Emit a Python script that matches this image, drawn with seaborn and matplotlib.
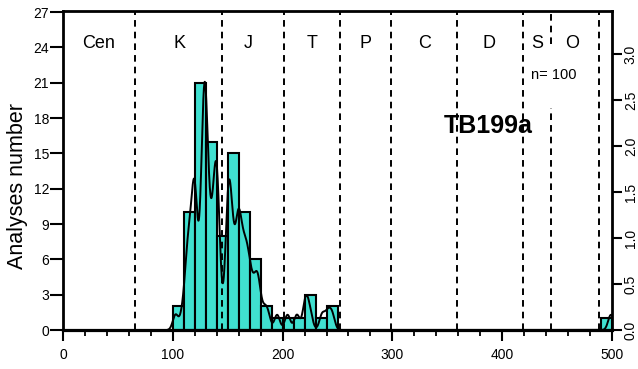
import numpy as np
import pandas as pd
import matplotlib
matplotlib.use("Agg")
import matplotlib.pyplot as plt
import seaborn as sns

# ---- data ----
ages = [
    102.5, 109,                                                   # 100-110 (2)
    112.3, 113, 113.6, 114.3, 115.3, 116.5, 117.4, 118.1, 118.7, 119.3,  # 110-120 (10)
    120.0, 120.2, 120.4, 120.6, 120.9, 121.5, 125.3, 126.0, 126.6, 127.1,
    127.5, 127.9, 128.2, 128.5, 128.5, 128.8, 129.1, 129.4, 129.6, 129.8,
    129.9,                                                        # 120-130 (21)
    130.2, 130.6, 131.1, 131.8, 132.6, 133.5, 134.5, 135.5, 136.4, 137.2,
    137.9, 138.5, 139.0, 139.4, 139.7, 139.9,                     # 130-140 (16)
    140.2, 140.6, 141.2, 142.0, 142.4, 149.0, 149.3, 149.7,       # 140-150 (8)
    150.0, 150.4, 151.0, 151.5, 152.0, 152.5, 153.1, 153.8, 154.7, 155.6,
    157.8, 158.6, 159.2, 159.6, 159.9,                            # 150-160 (15)
    160.6, 161.5, 162.5, 163.5, 164.5, 165.5, 166.5, 167.5, 168.5, 169.5,  # 160-170 (10)
    171.0, 173.0, 174.8, 176.5, 178.0, 178.5,                     # 170-180 (6)
    183.0, 186.5,                                                 # 180-190 (2)
    195, 204.5, 213, 220.5, 221.5, 225, 236, 241, 245,            # 190-250 (9)
    499,                                                          # 490-500 (1)
]
period_bounds = [66, 145, 201, 252, 299, 359, 419, 488]
split_bound = 444
period_labels = ["Cen", "K", "J", "T", "P", "C", "D", "S", "O"]
period_label_x = [32.7, 106, 169, 226.8, 275.5, 329, 388, 432, 464]
left_ticks = [0, 3, 6, 9, 12, 15, 18, 21, 24, 27]
right_ticks = [0.0, 0.5, 1.0, 1.5, 2.0, 2.5, 3.0]
sample_name = "TB199a"
n_label = "n= 100"

df = pd.DataFrame({"age": ages})

sns.set_theme(style="white")
plt.rcParams["font.family"] = ["Liberation Sans", "DejaVu Sans"]
plt.rcParams.update({"text.color": "black", "axes.labelcolor": "black",
                     "xtick.color": "black", "ytick.color": "black"})

fig = plt.figure(figsize=(6.38, 3.69), dpi=100)
L, R, T, B = 63, 612, 11, 330
ax = fig.add_axes([L / 638, 1 - B / 369, (R - L) / 638, (B - T) / 369])

sns.histplot(data=df, x="age", bins=np.arange(100, 510, 10), stat="count",
             color="#40E0D0", alpha=1, edgecolor="black", linewidth=1.5, ax=ax)

ax.set_xlim(0, 500)
ax.set_ylim(0, 27.1)
ax.set_yticks(left_ticks)
ax.set_xticks(np.arange(0, 501, 100))
ax.set_xticks(np.arange(0, 501, 20), minor=True)
ax.set_xlabel("")
ax.set_ylabel("Analyses number", fontsize=15.5, color="black")
ax.yaxis.set_label_coords(-0.064, 0.45)

# period boundaries
dash = (0, (3.4, 2.6))
for b in period_bounds:
    ax.axvline(b, color="black", lw=1.4, linestyle=dash, zorder=5)
ax.axvline(split_bound, ymin=0, ymax=0.697, color="black", lw=1.4, linestyle=dash, zorder=5)
ax.axvline(split_bound, ymin=0.897, ymax=1, color="black", lw=1.4, linestyle=dash, zorder=5)

for lab, x in zip(period_labels, period_label_x):
    ax.text(x, 24.3, lab, ha="center", va="center", fontsize=13, color="black")
ax.text(387, 16.7, sample_name, ha="center", va="baseline", fontsize=18,
        fontweight="bold", color="black")
ax.text(447, 21.65, n_label, ha="center", va="center", fontsize=10.5, color="black")

for s in ["left", "top", "right"]:
    ax.spines[s].set_linewidth(2.0)
    ax.spines[s].set_color("black")
ax.spines["bottom"].set_linewidth(2.3)
ax.spines["bottom"].set_color("black")
ax.tick_params(axis="x", which="major", direction="out", length=8, width=1.5,
               labelsize=10, pad=5, bottom=True, colors="black")
ax.tick_params(axis="x", which="minor", direction="out", length=4, width=1.3, bottom=True)
ax.tick_params(axis="y", which="major", direction="out", length=9.5, width=1.5,
               labelsize=10, pad=0.5, left=True, colors="black")

# probability density curve on the right axis
ax2 = ax.twinx()
sns.kdeplot(data=df, x="age", bw_method=2.5 / np.std(ages, ddof=1), gridsize=3000,
            color="black", lw=1.4, ax=ax2)
yd = ax2.lines[0].get_ydata()
scale = 2.70 / yd.max()
ax2.set_ylim(0, 3.47 / scale)
ax2.set_yticks([t / scale for t in right_ticks])
ax2.set_yticklabels([f"{t:.1f}" for t in right_ticks], rotation=90, va="center")
ax2.set_ylabel("")
ax2.set_xlim(0, 500)
ax2.tick_params(axis="y", direction="out", length=7.5, width=1.5, labelsize=10, pad=1,
                right=True, colors="black")
for s in ax2.spines.values():
    s.set_visible(False)

fig.savefig("out.png", dpi=100)
